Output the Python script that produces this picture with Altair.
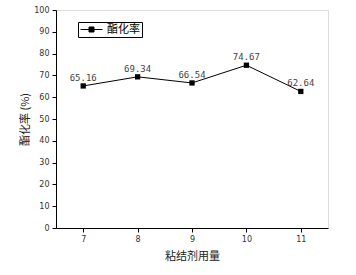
import altair as alt
import pandas as pd

dosage = [7, 8, 9, 10, 11]
rate = [65.16, 69.34, 66.54, 74.67, 62.64]
labels = ["65.16", "69.34", "66.54", "74.67", "62.64"]
series = ["酯化率"] * 5

df = pd.DataFrame({"dosage": dosage, "rate": rate, "label": labels, "series": series})

x = alt.X("dosage:Q", scale=alt.Scale(domain=[6.5, 11.5], nice=False),
          axis=alt.Axis(values=dosage, title="粘结剂用量", grid=False,
                        labelFontSize=8, titleFontSize=11, titleFontWeight="normal",
                        labelColor="#333", titleColor="#222", tickSize=4,
                        domainColor="black", tickColor="black", labelPadding=3, titlePadding=7,
                        titleFont="Noto Sans CJK SC", labelFont="DejaVu Sans"))
y = alt.Y("rate:Q", scale=alt.Scale(domain=[0, 100], nice=False),
          axis=alt.Axis(values=list(range(0, 101, 10)), title="酯化率 (%)", grid=False,
                        labelFontSize=8, titleFontSize=11, titleFontWeight="normal",
                        labelColor="#333", titleColor="#222", tickSize=4,
                        domainColor="black", tickColor="black", labelPadding=3, titlePadding=3,
                        titleFont="Noto Sans CJK SC", labelFont="DejaVu Sans"))

color = alt.Color("series:N", scale=alt.Scale(range=["black"]),
                  legend=alt.Legend(title=None, orient="none", legendX=22, legendY=12,
                                    strokeColor="black", padding=2, cornerRadius=0,
                                    symbolType="M-1,0H3.4M0.7,-0.5H1.7V0.5H0.7Z",
                                    symbolSize=100, symbolStrokeWidth=1,
                                    symbolFillColor="black", symbolStrokeColor="black",
                                    labelFontSize=11, labelFont="Noto Sans CJK SC",
                                    labelColor="black", labelOffset=16))

base = alt.Chart(df)
line = base.mark_line(strokeWidth=1).encode(x=x, y=y, color=color)
pts = base.mark_point(shape="square", filled=True, size=28, opacity=1).encode(
    x=x, y=y, color=alt.Color("series:N", scale=alt.Scale(range=["black"]), legend=None))
txt = base.mark_text(baseline="bottom", dy=-3, fontSize=9, font="DejaVu Sans Mono",
                     color="#444").encode(x=x, y=y, text="label:N")

chart = alt.layer(line, pts, txt).properties(
    width=272, height=218,
    autosize=alt.AutoSizeParams(type="none"),
    padding={"left": 56, "top": 10, "right": 28, "bottom": 47},
).configure_view(stroke=None).configure(background="white")

chart.save("out.html", embed_options={"renderer": "svg", "actions": False})
